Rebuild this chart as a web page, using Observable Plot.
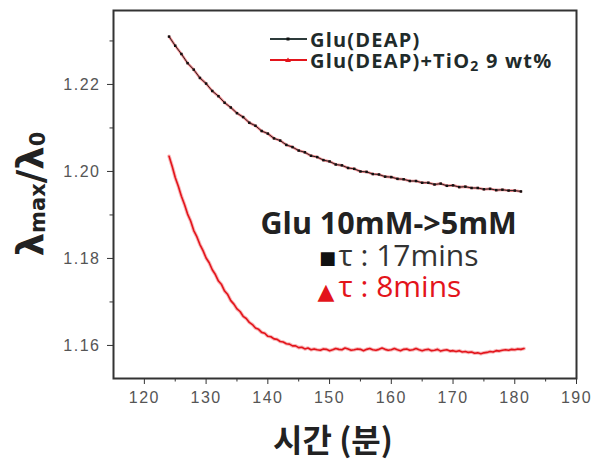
<!DOCTYPE html>
<html><head><meta charset="utf-8">
<script src="https://cdn.jsdelivr.net/npm/d3@7"></script>
<script src="https://cdn.jsdelivr.net/npm/@observablehq/plot@0.6"></script>
<style>
html,body{margin:0;padding:0;background:#fff;}
#chart svg{display:block;}
g[aria-label="x-axis tick label"] text, g[aria-label="y-axis tick label"] text{letter-spacing:1.5px;}
</style></head><body><div id="chart"></div>
<script>
// ---- tick values ----
const xTicks = [120, 130, 140, 150, 160, 170, 180, 190];
const xMinorTicks = [125, 135, 145, 155, 165, 175, 185];
const yTicks = [1.16, 1.18, 1.20, 1.22];
const yMinorTicks = [1.17, 1.19, 1.21, 1.23];

// ---- series: Glu(DEAP), one sample per minute from 124 min ----
const blackTime = d3.range(124, 182, 1);
const blackRatio = [
  1.2310, 1.2289, 1.2270, 1.2249, 1.2234, 1.2215, 1.2202, 1.2185, 1.2173, 1.2158,
  1.2147, 1.2134, 1.2125, 1.2112, 1.2105, 1.2093, 1.2087, 1.2076, 1.2071, 1.2061,
  1.2056, 1.2048, 1.2044, 1.2036, 1.2033, 1.2026, 1.2023, 1.2016, 1.2014, 1.2008,
  1.2006, 1.2000, 1.1999, 1.1994, 1.1993, 1.1988, 1.1987, 1.1983, 1.1982, 1.1978,
  1.1978, 1.1974, 1.1974, 1.1970, 1.1972, 1.1967, 1.1968, 1.1964, 1.1965, 1.1962,
  1.1962, 1.1959, 1.1960, 1.1957, 1.1958, 1.1956, 1.1956, 1.1954
];

// ---- series: Glu(DEAP)+TiO2 9 wt%, two samples per minute from 124 min ----
const redTime = d3.range(124, 182, 0.5);
const redRatio = [
  1.2035, 1.2012, 1.1986, 1.1966, 1.1943, 1.1924, 1.1902, 1.1886, 1.1864, 1.1850,
  1.1832, 1.1818, 1.1801, 1.1790, 1.1774, 1.1763, 1.1748, 1.1740, 1.1725, 1.1717,
  1.1703, 1.1695, 1.1684, 1.1678, 1.1667, 1.1662, 1.1653, 1.1648, 1.1640, 1.1637,
  1.1630, 1.1628, 1.1621, 1.1620, 1.1615, 1.1614, 1.1609, 1.1608, 1.1604, 1.1603,
  1.1599, 1.1599, 1.1595, 1.1596, 1.1592, 1.1594, 1.1590, 1.1592, 1.1590,
  1.1589, 1.1592, 1.1591, 1.1588, 1.1590, 1.1593, 1.1591, 1.1590, 1.1594, 1.1592,
  1.1589, 1.1590, 1.1592, 1.1591, 1.1588, 1.1591, 1.1593, 1.1590, 1.1589, 1.1591,
  1.1594, 1.1591, 1.1589, 1.1590, 1.1593, 1.1590, 1.1588, 1.1591, 1.1592, 1.1589,
  1.1590, 1.1593, 1.1590, 1.1588, 1.1590, 1.1591, 1.1588, 1.1589, 1.1591, 1.1587,
  1.1589, 1.1590, 1.1587, 1.1588, 1.1586, 1.1588, 1.1585, 1.1586, 1.1584, 1.1585,
  1.1582, 1.1583, 1.1581, 1.1583, 1.1584, 1.1586, 1.1585, 1.1588, 1.1587, 1.1589,
  1.1590, 1.1589, 1.1591, 1.1590, 1.1592, 1.1591, 1.1593
];

// ---- texts ----
const seriesNames = ["Glu(DEAP)", "Glu(DEAP)+TiO", "2", " 9 wt%"];
const noteTitle = "Glu 10mM->5mM";
const noteBlack = "τ : 17mins";
const noteRed = "τ : 8mins";
const xLabel = "시간 (분)";
const yLabelParts = ["λ", "max", "/λ", "0"];

const black = blackTime.map((t, i) => ({t, r: blackRatio[i]}));
const red = redTime.map((t, i) => ({t, r: redRatio[i]}));

const W = 598, H = 466, mL = 113, mR = 22, mT = 10, mB = 88;
const RED = "#e3141b";
const noteFont = "'Open Sans', sans-serif";

const plot = Plot.plot({
  width: W, height: H,
  marginLeft: mL, marginRight: mR, marginTop: mT, marginBottom: mB,
  style: {fontFamily: "'Liberation Sans', Arial, sans-serif", background: "#fff", overflow: "visible"},
  x: {domain: [115, 190], label: null},
  y: {domain: [1.1524, 1.237], label: null},
  marks: [
    Plot.axisX({ticks: xTicks, tickSize: 6, tickPadding: 7, fontSize: 16, stroke: "#333", fill: "#555", label: null, tickFormat: d => String(d)}),
    Plot.axisX({ticks: xMinorTicks, tickSize: 3.5, stroke: "#333", label: null, tickFormat: () => ""}),
    Plot.axisY({ticks: yTicks, tickSize: 6, tickPadding: 7, fontSize: 16, stroke: "#333", fill: "#555", label: null, tickFormat: d3.format(".2f")}),
    Plot.axisY({ticks: yMinorTicks, tickSize: 3.5, stroke: "#333", label: null, tickFormat: () => ""}),
    Plot.line(black, {x: "t", y: "r", stroke: RED, strokeWidth: 2.6, strokeOpacity: 0.5}),
    Plot.line(black, {x: "t", y: "r", stroke: "#111", strokeWidth: 0.9}),
    Plot.dot(black, {x: "t", y: "r", fill: "#111", r: 1.4, symbol: "square"}),
    Plot.line(red, {x: "t", y: "r", stroke: RED, strokeWidth: 3.6, strokeOpacity: 0.3}),
    Plot.line(red, {x: "t", y: "r", stroke: RED, strokeWidth: 1.6}),
    Plot.text([noteTitle], {frameAnchor: "top-left", dx: 147, dy: 214, text: d => d, fontSize: 30.5, fontWeight: "bold", fill: "#222", textAnchor: "start", lineAnchor: "middle", fontFamily: noteFont}),
    Plot.text(["■"], {frameAnchor: "top-left", dx: 214, dy: 248, text: d => d, fontSize: 18, fill: "#111", textAnchor: "middle", lineAnchor: "middle", fontFamily: "'DejaVu Sans', sans-serif"}),
    Plot.text([noteBlack], {frameAnchor: "top-left", dx: 225, dy: 246, text: d => d, fontSize: 30, fill: "#333", textAnchor: "start", lineAnchor: "middle", fontFamily: noteFont}),
    Plot.text(["▲"], {frameAnchor: "top-left", dx: 212.5, dy: 281, text: d => d, fontSize: 22, fill: RED, textAnchor: "middle", lineAnchor: "middle", fontFamily: "'DejaVu Sans', sans-serif"}),
    Plot.text([noteRed], {frameAnchor: "top-left", dx: 225, dy: 277, text: d => d, fontSize: 30, fill: RED, textAnchor: "start", lineAnchor: "middle", fontFamily: noteFont}),
    Plot.text([xLabel], {frameAnchor: "bottom", dx: -12, dy: 63, text: d => d, fontSize: 32, fontWeight: "bold", fill: "#222", lineAnchor: "middle", fontFamily: "'Noto Sans CJK KR', sans-serif"}),
    Plot.frame({stroke: "#333", strokeWidth: 2})
  ]
});

document.getElementById("chart").appendChild(plot);

// ---- y axis label with subscripts ----
const svg = d3.select(plot);
const yl = svg.append("text")
  .attr("transform", "translate(30,194) rotate(-90)")
  .attr("text-anchor", "middle")
  .attr("dominant-baseline", "central")
  .attr("font-family", "'DejaVu Sans', sans-serif")
  .attr("font-weight", "bold")
  .attr("font-size", 37)
  .attr("fill", "#222");
yl.append("tspan").text(yLabelParts[0]);
yl.append("tspan").attr("font-size", 21).attr("dy", 8).text(yLabelParts[1]);
yl.append("tspan").attr("dy", -8).text(yLabelParts[2]);
yl.append("tspan").attr("font-size", 21).attr("dy", 8).text(yLabelParts[3]);

// ---- legend ----
const lg = svg.append("g").attr("font-family", "'Open Sans', sans-serif").attr("font-weight", "bold").attr("font-size", 20).attr("letter-spacing", "1.2px").attr("fill", "#1f2b2b").attr("text-anchor", "start");
const rows = [{y: 39, color: "#2d3b3b", sym: "dot"}, {y: 60, color: RED, sym: "tri"}];
rows.forEach((row) => {
  lg.append("line").attr("x1", 270).attr("x2", 307).attr("y1", row.y).attr("y2", row.y).attr("stroke", row.color).attr("stroke-width", 2);
  if (row.sym === "dot") lg.append("rect").attr("x", 286.5).attr("y", row.y - 1.5).attr("width", 3).attr("height", 3).attr("fill", "#111");
  else lg.append("path").attr("d", `M285,${row.y + 2}L288,${row.y - 2.5}L291,${row.y + 2}Z`).attr("fill", RED);
});
lg.append("text").attr("x", 310).attr("y", 39).attr("dominant-baseline", "central").text(seriesNames[0]);
const t2 = lg.append("text").attr("x", 310).attr("y", 60).attr("dominant-baseline", "central");
t2.append("tspan").text(seriesNames[1]);
t2.append("tspan").attr("font-size", 14).attr("dy", 5).text(seriesNames[2]);
t2.append("tspan").attr("dy", -5).text(seriesNames[3]);
</script></body></html>
